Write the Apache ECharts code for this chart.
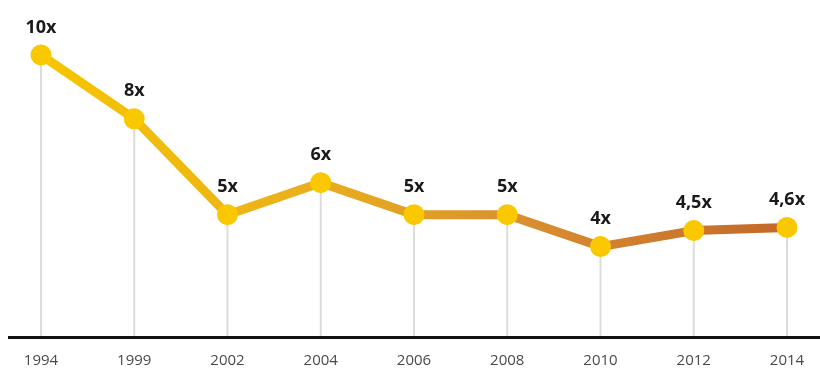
<!DOCTYPE html>
<html>
<head>
<meta charset="utf-8">
<script src="https://cdn.jsdelivr.net/npm/echarts@6/dist/echarts.min.js"></script>
<style>
  html, body { margin: 0; padding: 0; background: #fff; }
  #chart { width: 820px; height: 369px; }
</style>
</head>
<body>
<div id="chart"></div>
<script>
// years on the x axis
const years = ['1994', '1999', '2002', '2004', '2006', '2008', '2010', '2012', '2014'];
// ratio values
const ratios = [10, 8, 5, 6, 5, 5, 4, 4.5, 4.6];
// labels shown above points
const pointLabels = ['10x', '8x', '5x', '6x', '5x', '5x', '4x', '4,5x', '4,6x'];

const chart = echarts.init(document.getElementById('chart'));

chart.setOption({
  animation: false,
  grid: { left: 41, right: 33, top: 23, bottom: 33 },
  xAxis: {
    type: 'category',
    data: years,
    boundaryGap: false,
    axisLine: { show: false },
    axisTick: { show: false },
    axisLabel: {
      color: '#4a4a4a',
      fontSize: 15,
      fontFamily: 'Open Sans',
      margin: 17
    }
  },
  yAxis: {
    type: 'value',
    min: 1.2,
    max: 11,
    show: false,
    splitLine: { show: false }
  },
  graphic: [{
    type: 'line',
    shape: { x1: 8, y1: 337.5, x2: 820, y2: 337.5 },
    style: { stroke: '#111', lineWidth: 3 },
    z: 10
  }],
  series: [
    {
      // thin drop lines from each point to the axis
      type: 'bar',
      data: ratios,
      barWidth: 2,
      itemStyle: { color: '#dcdcdc' },
      silent: true,
      z: 1
    },
    {
      type: 'line',
      data: ratios,
      symbol: 'circle',
      symbolSize: 21,
      z: 5,
      lineStyle: {
        width: 9,
        cap: 'round',
        join: 'round',
        color: new echarts.graphic.LinearGradient(0, 0, 1, 0, [
          { offset: 0, color: '#f6c600' },
          { offset: 0.35, color: '#eab01c' },
          { offset: 0.65, color: '#d98e30' },
          { offset: 1, color: '#c2672a' }
        ])
      },
      itemStyle: { color: '#fac800' },
      label: {
        show: true,
        position: 'top',
        distance: 8,
        fontSize: 18,
        fontWeight: 'bold',
        fontFamily: 'Open Sans',
        color: '#1a1a1a',
        formatter: (p) => pointLabels[p.dataIndex]
      }
    }
  ]
});
</script>
</body>
</html>
